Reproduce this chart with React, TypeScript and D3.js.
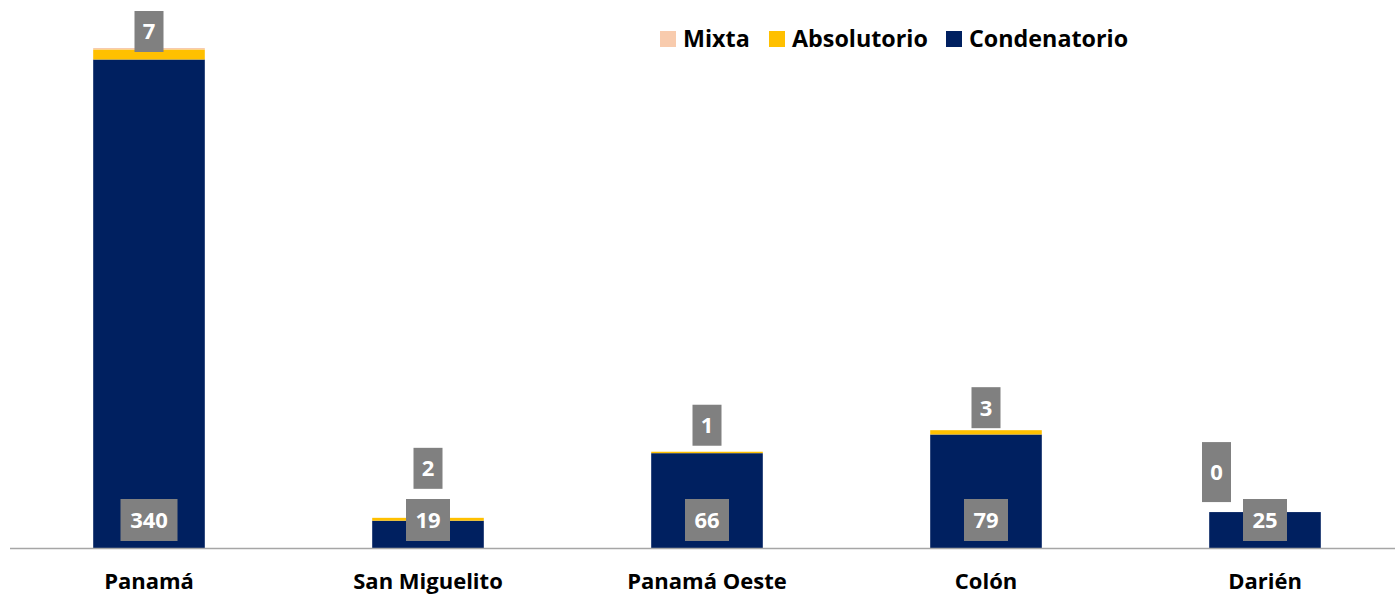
import React from "react";
import * as d3 from "d3";

const categories = ["Panamá", "San Miguelito", "Panamá Oeste", "Colón", "Darién"];
const condenatorio = [340, 19, 66, 79, 25];
const absolutorio = [7, 2, 1, 3, 0];
const mixta = [1, 0, 0, 0, 0];
const seriesNames = ["Mixta", "Absolutorio", "Condenatorio"];
const seriesColors = ["#F8CBAD", "#FFC000", "#002060"];

// manual label placement (layout): box bottom offset above stack top, x shift, box height
const absLabelLift = [-4, 29, 6, 2, 10];
const absLabelDx = [0, 0, 0, 0, -48.5];
const absLabelH = [41, 41, 41, 41, 60];

const W = 1395;
const H = 594;
const FONT = "'Open Sans', Lato, sans-serif";

export default function App() {
  const x = d3
    .scaleBand<string>()
    .domain(categories)
    .range([9.5, 9.5 + W])
    .paddingInner(0.6)
    .paddingOuter(0.3);
  const totals = categories.map((_, i) => condenatorio[i] + absolutorio[i] + mixta[i]);
  const y = d3
    .scaleLinear()
    .domain([0, d3.max(totals) as number])
    .range([548, 48]);

  const rows = categories.map((c, i) => ({
    cat: c,
    Condenatorio: condenatorio[i],
    Absolutorio: absolutorio[i],
    Mixta: mixta[i],
  }));
  const stack = d3.stack<any>().keys(["Condenatorio", "Absolutorio", "Mixta"]);
  const layers = stack(rows);
  const colorOf: Record<string, string> = {
    Mixta: seriesColors[0],
    Absolutorio: seriesColors[1],
    Condenatorio: seriesColors[2],
  };

  const digitW = 13;
  const legendItems = [
    { name: seriesNames[0], x: 660 },
    { name: seriesNames[1], x: 769 },
    { name: seriesNames[2], x: 946 },
  ];

  return (
    <div style={{ position: "fixed", left: 0, top: 0 }}>
      <svg width={W} height={H} style={{ display: "block", background: "#fff" }}>
        {layers.map((layer) =>
          layer.map((d, i) => {
            const y0 = y(d[0]);
            const y1 = y(d[1]);
            if (y0 - y1 <= 0) return null;
            return (
              <rect
                key={layer.key + i}
                x={x(categories[i])}
                y={y1}
                width={x.bandwidth()}
                height={y0 - y1}
                fill={colorOf[layer.key]}
              />
            );
          })
        )}
        <line x1={10} x2={W} y1={548.5} y2={548.5} stroke="#A6A6A6" strokeWidth={1.5} />
        {categories.map((c, i) => {
          const cx = (x(c) as number) + x.bandwidth() / 2;
          const txt = String(condenatorio[i]);
          const bw = txt.length * digitW + 18;
          return (
            <g key={"cl" + i}>
              <rect x={cx - bw / 2} y={499} width={bw} height={42} fill="#808080" />
              <text
                x={cx}
                y={520}
                dy="0.36em"
                textAnchor="middle"
                fill="#fff"
                fontFamily={FONT}
                fontWeight="bold"
                fontSize={22}
              >
                {txt}
              </text>
            </g>
          );
        })}
        {categories.map((c, i) => {
          const cx = (x(c) as number) + x.bandwidth() / 2 + absLabelDx[i];
          const top = y(totals[i]);
          const bottom = top - absLabelLift[i];
          const h = absLabelH[i];
          const txt = String(absolutorio[i]);
          const bw = txt.length * digitW + 16;
          return (
            <g key={"al" + i}>
              <rect x={cx - bw / 2} y={bottom - h} width={bw} height={h} fill="#808080" />
              <text
                x={cx}
                y={bottom - h / 2}
                dy="0.36em"
                textAnchor="middle"
                fill="#fff"
                fontFamily={FONT}
                fontWeight="bold"
                fontSize={22}
              >
                {txt}
              </text>
            </g>
          );
        })}
        {categories.map((c, i) => (
          <text
            key={"cat" + i}
            x={(x(c) as number) + x.bandwidth() / 2}
            y={589}
            textAnchor="middle"
            fill="#000"
            fontFamily={FONT}
            fontWeight="bold"
            fontSize={22}
          >
            {c}
          </text>
        ))}
        {legendItems.map((it, i) => (
          <g key={"lg" + i}>
            <rect x={it.x} y={31} width={16} height={16} fill={seriesColors[i]} />
            <text
              x={it.x + 23}
              y={47}
              fill="#000"
              fontFamily={FONT}
              fontWeight="bold"
              fontSize={23.3}
            >
              {it.name}
            </text>
          </g>
        ))}
      </svg>
    </div>
  );
}
